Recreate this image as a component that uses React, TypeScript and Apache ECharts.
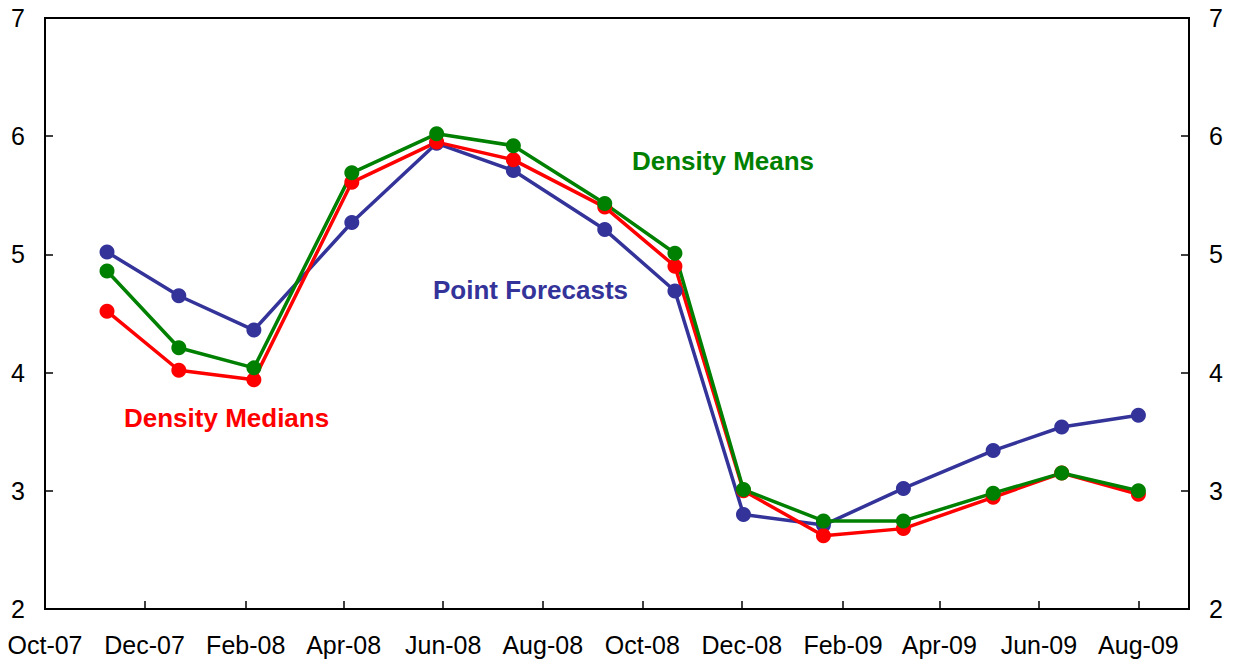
import React, { useEffect, useRef } from "react";
import * as echarts from "echarts";

const surveyDates = [
  "2007-11-08", "2007-12-22", "2008-02-06", "2008-04-06", "2008-05-28", "2008-07-14", "2008-09-08",
  "2008-10-21", "2008-12-02", "2009-01-20", "2009-03-10", "2009-05-04", "2009-06-15", "2009-08-01",
];
const pointForecasts = [5.02, 4.65, 4.36, 5.27, 5.94, 5.71, 5.21, 4.69, 2.8, 2.71, 3.02, 3.34, 3.54, 3.64];
const densityMeans = [4.86, 4.21, 4.04, 5.69, 6.02, 5.92, 5.43, 5.01, 3.01, 2.745, 2.745, 2.98, 3.15, 3.0];
const densityMedians = [4.52, 4.02, 3.94, 5.61, 5.95, 5.8, 5.4, 4.9, 3.0, 2.62, 2.68, 2.945, 3.15, 2.97];
const tickMonths = [
  "2007-10-01", "2007-12-01", "2008-02-01", "2008-04-01", "2008-06-01", "2008-08-01",
  "2008-10-01", "2008-12-01", "2009-02-01", "2009-04-01", "2009-06-01", "2009-08-01",
];
const xStart = "2007-10-01";
const xEnd = "2009-09-01";
const yTicks = [2, 3, 4, 5, 6, 7];

const MONTHS = ["Jan", "Feb", "Mar", "Apr", "May", "Jun", "Jul", "Aug", "Sep", "Oct", "Nov", "Dec"];
const ts = (s: string) => {
  const [y, m, d] = s.split("-").map(Number);
  return Date.UTC(y, m - 1, d);
};
const fmt = (v: number) => {
  const d = new Date(v);
  return MONTHS[d.getUTCMonth()] + "-" + String(d.getUTCFullYear() % 100).padStart(2, "0");
};

const FONT = "'Liberation Sans', Arial, sans-serif";

export default function App() {
  const ref = useRef<HTMLDivElement>(null);
  useEffect(() => {
    if (!ref.current) return;
    const chart = echarts.init(ref.current, null, { renderer: "svg" });
    const mk = (vals: number[]) => vals.map((v, i) => [ts(surveyDates[i]), v]);
    const tickTs = tickMonths.map(ts);
    const yAxisBase = (pos: "left" | "right") => ({
      type: "value",
      position: pos,
      min: yTicks[0],
      max: yTicks[yTicks.length - 1],
      interval: 1,
      axisLine: { show: true, lineStyle: { color: "#000", width: 2 } },
      axisTick: { show: true, inside: true, length: 8, lineStyle: { color: "#000", width: 1.5 } },
      axisLabel: { show: true, color: "#000", fontSize: 25, fontFamily: FONT, margin: 20 },
      splitLine: { show: false },
    });
    const line = (name: string, color: string, vals: number[]) => ({
      name,
      type: "line",
      data: mk(vals),
      symbol: "circle",
      symbolSize: 15,
      showSymbol: true,
      itemStyle: { color },
      lineStyle: { color, width: 3.5 },
    });
    chart.setOption({
      animation: false,
      backgroundColor: "#fff",
      grid: {
        left: 45, right: 47, top: 18, bottom: 54, containLabel: false,
        show: true, borderColor: "#000", borderWidth: 2, backgroundColor: "transparent",
      },
      xAxis: {
        type: "value",
        min: ts(xStart),
        max: ts(xEnd),
        axisLine: { show: true, lineStyle: { color: "#000", width: 2 } },
        axisTick: { show: true, inside: true, length: 8, customValues: tickTs, lineStyle: { color: "#000", width: 1.5 } },
        axisLabel: {
          show: true, customValues: tickTs, formatter: (v: number) => fmt(v),
          color: "#000", fontSize: 25, fontFamily: FONT, margin: 23,
        },
        splitLine: { show: false },
      },
      yAxis: [yAxisBase("left"), yAxisBase("right")],
      series: [
        line("Point Forecasts", "#333399", pointForecasts),
        line("Density Medians", "#ff0000", densityMedians),
        line("Density Means", "#008000", densityMeans),
      ],
      graphic: [
        { type: "text", x: 632, y: 161, style: { text: "Density Means", fill: "#008000", font: `bold 26px ${FONT}`, verticalAlign: "middle" } },
        { type: "text", x: 433, y: 290, style: { text: "Point Forecasts", fill: "#333399", font: `bold 26px ${FONT}`, verticalAlign: "middle" } },
        { type: "text", x: 124, y: 418, style: { text: "Density Medians", fill: "#ff0000", font: `bold 26px ${FONT}`, verticalAlign: "middle" } },
      ],
    });
    return () => chart.dispose();
  }, []);
  return <div ref={ref} style={{ position: "fixed", left: 0, top: 0, width: 1236, height: 663 }} />;
}
